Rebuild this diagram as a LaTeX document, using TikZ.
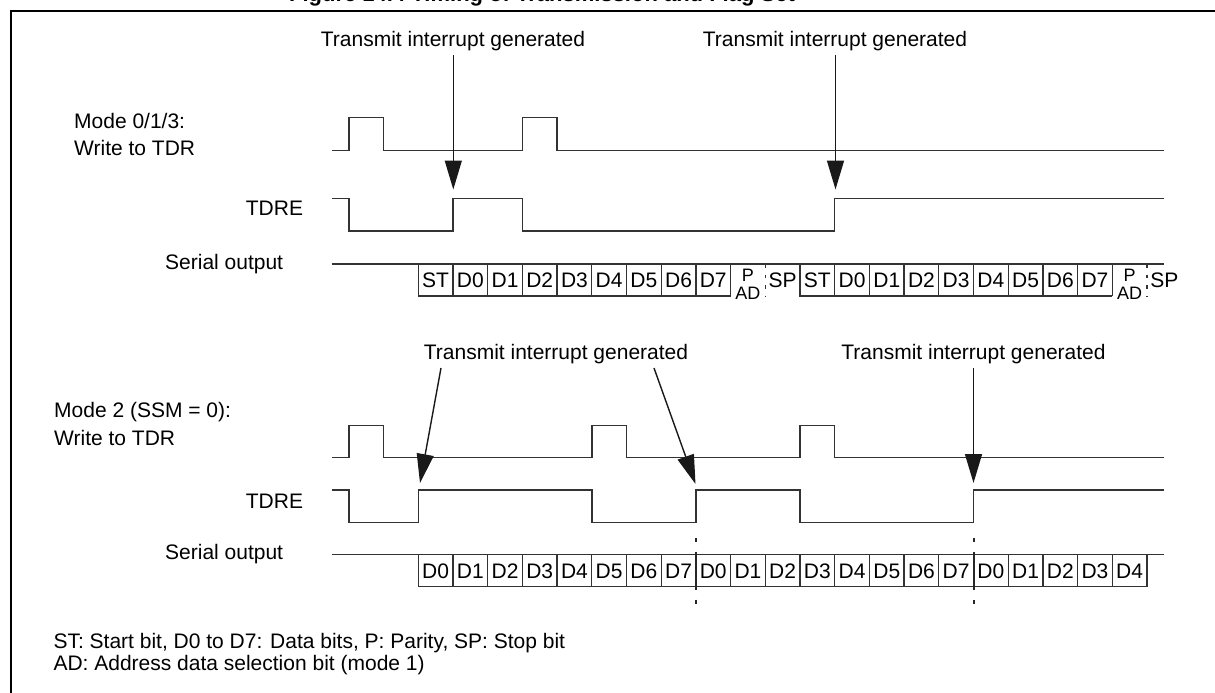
\documentclass[tikz,border=0pt]{standalone}
\usepackage{fontspec}
\setmainfont{Liberation Sans}
\usetikzlibrary{arrows.meta}
\begin{document}
\begin{tikzpicture}[x=1pt,y=-1pt,
  wave/.style={line width=1.5pt, draw=black!80, line join=miter},
  boxline/.style={line width=1.3pt, draw=black!80},
  thickdiv/.style={line width=2pt, draw=black!85},
  dashdiv/.style={line width=1.2pt, draw=black!80, dash pattern=on 3.5pt off 7pt},
  lbl/.style={font=\fontsize{21}{24}\selectfont, inner sep=0pt, anchor=base},
  lblw/.style={lbl, anchor=base west},
  cell/.style={font=\fontsize{21}{24}\selectfont, inner sep=0pt, anchor=base},
  small/.style={font=\fontsize{18}{20}\selectfont, inner sep=0pt, anchor=base},
  arr/.style={line width=1.4pt, draw=black!90, -{Triangle[length=29pt,width=17pt]}},
]
\useasboundingbox (0,0) rectangle (1215,693);
% frame and (cropped) title
\draw[line width=2.6pt] (11,694) -- (11,11) -- (1216,11);
\node[lbl, font=\bfseries\fontsize{22}{26}\selectfont] (title) at (542,1.5) {Figure 14.4 Timing of Transmission and Flag Set};

% ---------------- top section ----------------
\node[lbl] (ti1) at (453,47) {Transmit interrupt generated};
\node[lbl] (ti2) at (835,47) {Transmit interrupt generated};
\coordinate (a1s) at (453.3,55);  \coordinate (a1e) at (453.3,189.5);
\coordinate (a2s) at (835.5,55);  \coordinate (a2e) at (835.5,189.5);

\node[lblw] (m1) at (74,128) {Mode 0/1/3:};
\node[lblw] (w1) at (74,155.7) {Write to TDR};
\node[lblw] (tdre1) at (245.7,215) {TDRE};
\node[lblw] (so1) at (165,269) {Serial output};

% write to TDR
\draw[wave] (331.5,150.7) -- (348.9,150.7) -- (348.9,117.7) -- (383.6,117.7) -- (383.6,150.7)
  -- (522.4,150.7) -- (522.4,117.7) -- (557.1,117.7) -- (557.1,150.7) -- (1164,150.7);
% TDRE
\draw[wave] (331.5,198.7) -- (348.9,198.7) -- (348.9,231) -- (453,231) -- (453,198.7)
  -- (522.4,198.7) -- (522.4,231) -- (834.7,231) -- (834.7,198.7) -- (1164,198.7);
% serial output
\draw[boxline] (331.5,264) -- (1164,264);
\draw[boxline] (418.3,264) -- (418.3,296) -- (730.6,296);
\draw[boxline] (800,264) -- (800,296) -- (1112.3,296);
\foreach \k in {1,...,9,12,13,...,20}
  \draw[boxline] ({418.3+34.7*\k},264) -- ({418.3+34.7*\k},296);
\foreach \k in {10,21}
  \draw[dashdiv] ({418.3+34.7*\k},264) -- ({418.3+34.7*\k},296);
\foreach \t [count=\i from 0] in {ST,D0,D1,D2,D3,D4,D5,D6,D7}
  \node[cell] at ({418.3+34.7*(\i+0.5)},287.5) {\t};
\foreach \t [count=\i from 11] in {ST,D0,D1,D2,D3,D4,D5,D6,D7}
  \node[cell] at ({418.3+34.7*(\i+0.5)},287.5) {\t};
\foreach \k in {9,20}{
  \node[small] at ({418.3+34.7*(\k+0.5)},281) {P};
  \node[small] at ({418.3+34.7*(\k+0.5)},299.5) {AD};
  \node[cell] at ({418.3+34.7*(\k+1.5)},287.5) {SP};
}

\draw[arr] (a1s) -- (a1e);
\draw[arr] (a2s) -- (a2e);

% ---------------- bottom section ----------------
\node[lbl] (ti3) at (556,359) {Transmit interrupt generated};
\node[lbl] (ti4) at (973.5,359) {Transmit interrupt generated};
\coordinate (b1s) at (441,368);   \coordinate (b1e) at (420,483);
\coordinate (b2s) at (654,368);   \coordinate (b2e) at (695.5,484);
\coordinate (b3s) at (973.5,368); \coordinate (b3e) at (973.5,483);

\node[lblw] (m2) at (54,417) {Mode 2 (SSM = 0):};
\node[lblw] (w2) at (54,445) {Write to TDR};
\node[lblw] (tdre2) at (245.7,508) {TDRE};
\node[lblw] (so2) at (165,559) {Serial output};

\draw[wave] (331.5,457.7) -- (348.9,457.7) -- (348.9,425.3) -- (383.6,425.3) -- (383.6,457.7)
  -- (591.8,457.7) -- (591.8,425.3) -- (626.5,425.3) -- (626.5,457.7)
  -- (800,457.7) -- (800,425.3) -- (834.7,425.3) -- (834.7,457.7) -- (1164,457.7);
\draw[wave] (331.5,490) -- (348.9,490) -- (348.9,522.7) -- (418.3,522.7) -- (418.3,490)
  -- (591.8,490) -- (591.8,522.7) -- (695.9,522.7) -- (695.9,490)
  -- (800,490) -- (800,522.7) -- (973.5,522.7) -- (973.5,490) -- (1164,490);

\draw[boxline] (331.5,554.7) -- (1164,554.7);
\draw[boxline] (418.3,554.7) -- (418.3,586.7) -- (1147,586.7);
\foreach \k in {1,...,7,9,10,...,15,17,18,...,21}
  \draw[boxline] ({418.3+34.7*\k},554.7) -- ({418.3+34.7*\k},586.7);
\foreach \k in {8,16}{
  \draw[thickdiv] ({418.3+34.7*\k},551.5) -- ({418.3+34.7*\k},590);
  \draw[thickdiv] ({418.3+34.7*\k},537.5) -- ({418.3+34.7*\k},542);
  \draw[thickdiv] ({418.3+34.7*\k},599.5) -- ({418.3+34.7*\k},604);
}
\foreach \t [count=\i from 0] in {D0,D1,D2,D3,D4,D5,D6,D7,D0,D1,D2,D3,D4,D5,D6,D7,D0,D1,D2,D3,D4}
  \node[cell] at ({418.3+34.7*(\i+0.5)},578) {\t};

\draw[arr] (b1s) -- (b1e);
\draw[arr] (b2s) -- (b2e);
\draw[arr] (b3s) -- (b3e);

% footer
\node[lblw] (f1) at (53.3,648) {ST: Start bit, D0 to D7: Data bits, P: Parity, SP: Stop bit};
\node[lblw] (f2) at (53.3,670) {AD: Address data selection bit (mode 1)};
\end{tikzpicture}
\end{document}
